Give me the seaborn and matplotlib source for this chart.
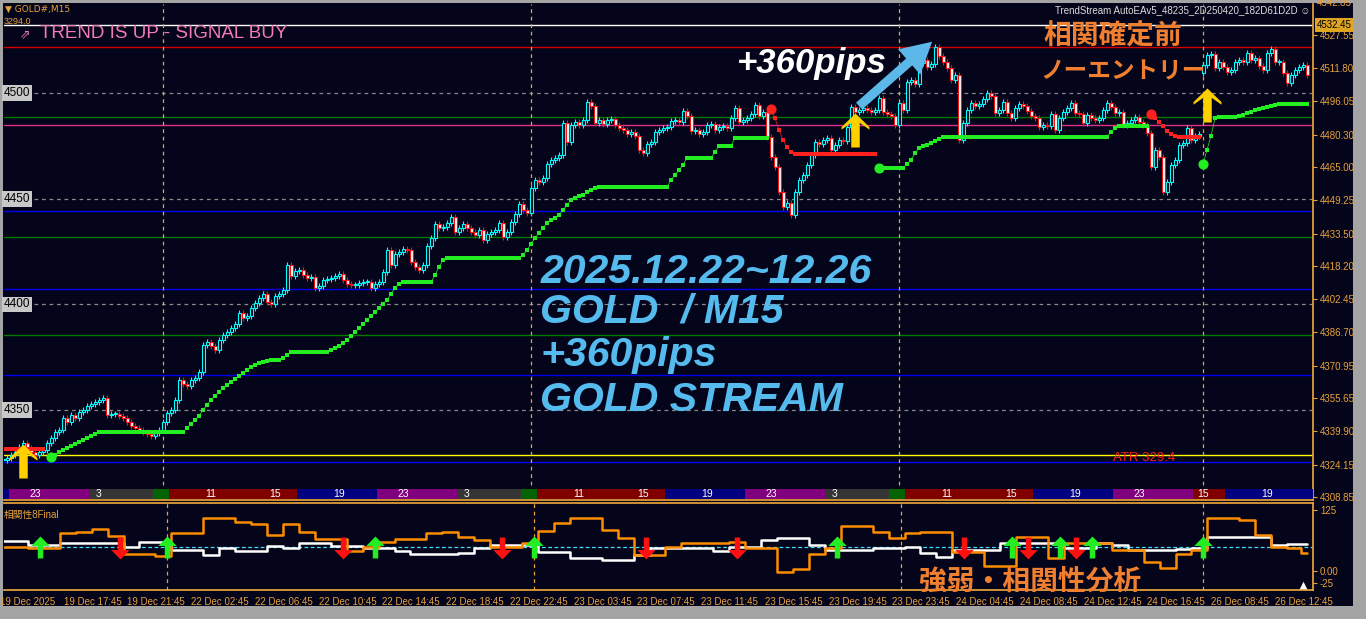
import matplotlib
matplotlib.use("Agg")
import matplotlib.pyplot as plt
import matplotlib.transforms as mtransforms
from matplotlib.patches import Rectangle
import numpy as np
import seaborn as sns

# ---------------- data ----------------
# M15 closes, one list per trading day
close_19dec = [4326.3, 4326.3, 4327.3, 4328.7, 4330.1, 4332.5, 4334.4, 4332.0, 4330.1, 4328.7, 4330.1, 4331.1, 4334.4, 4336.8, 4339.6, 4340.5,
               4346.2, 4344.3, 4347.6, 4346.2, 4349.1, 4350.0, 4351.9, 4352.8, 4353.8, 4354.7, 4355.7, 4347.6, 4348.1, 4348.1, 4347.2, 4346.2,
               4344.3, 4342.4, 4341.5, 4340.5, 4339.6, 4338.6, 4337.7, 4339.1, 4340.5]
close_22dec = [4344.3, 4348.6, 4350.0, 4354.7, 4364.2, 4362.3, 4361.4,
               4364.2, 4365.2, 4368.0, 4380.8, 4382.2, 4380.3, 4378.4, 4383.1, 4385.5, 4386.9, 4388.8, 4390.7, 4395.9, 4393.6, 4394.5, 4398.3,
               4400.7, 4403.0, 4404.9, 4401.1, 4400.2, 4404.0, 4404.9, 4406.8, 4418.6, 4413.4, 4415.8, 4416.3, 4413.9, 4412.5, 4413.0, 4407.8,
               4408.7, 4411.5, 4412.0, 4412.5, 4413.4, 4414.4, 4411.5, 4409.7, 4409.2, 4409.2, 4410.1, 4410.6, 4410.6, 4407.8, 4409.7, 4410.6,
               4415.3, 4425.7, 4418.6, 4423.9, 4424.8, 4426.2, 4425.7, 4420.1, 4417.7, 4416.3, 4418.6, 4427.6, 4431.4, 4438.1, 4436.2, 4436.6,
               4438.5, 4441.4, 4434.3, 4436.2, 4438.1, 4436.2, 4434.3, 4432.9, 4435.2, 4430.5, 4433.3, 4434.3, 4435.2, 4438.5, 4431.9, 4434.3,
               4439.0, 4442.8, 4447.5, 4444.7, 4443.3]
close_23dec = [4455.1, 4458.9, 4457.9, 4459.8, 4466.5, 4468.4, 4469.3, 4470.7, 4485.9, 4476.9, 4484.9,
               4486.3, 4484.9, 4487.3, 4495.8, 4493.9, 4485.9, 4487.3, 4485.4, 4487.3, 4487.8, 4484.9, 4483.5, 4482.6, 4480.7, 4481.6, 4479.7,
               4473.1, 4471.7, 4475.9, 4476.9, 4481.6, 4482.6, 4483.5, 4484.0, 4486.8, 4487.3, 4486.3, 4491.6, 4489.2, 4482.1, 4482.6, 4480.7,
               4481.6, 4484.9, 4485.4, 4482.6, 4484.0, 4484.5, 4483.5, 4488.2, 4493.0, 4486.3, 4487.3, 4488.2, 4490.1, 4494.4, 4489.2, 4491.1,
               4479.2, 4469.8, 4465.0, 4453.2, 4446.1, 4448.0, 4442.3, 4453.2, 4458.9, 4461.3, 4466.0, 4470.7, 4476.9, 4475.9, 4477.8, 4478.8,
               4473.1, 4475.5, 4477.8, 4477.4, 4484.0, 4493.4, 4491.1, 4492.0, 4493.0, 4492.0, 4491.1, 4492.0, 4497.7, 4491.1, 4490.1, 4489.2,
               4484.9]
close_24dec = [4495.3, 4492.0, 4505.3, 4506.2, 4504.3, 4514.3, 4515.7, 4512.4, 4513.8, 4521.9, 4517.6, 4514.7, 4511.9, 4506.2, 4508.6,
               4477.8, 4485.9, 4492.0, 4495.3, 4493.9, 4494.9, 4497.2, 4500.1, 4498.7, 4490.6, 4492.0, 4495.8, 4490.6, 4488.2, 4493.0, 4494.9,
               4493.9, 4491.6, 4489.2, 4488.2, 4484.0, 4484.9, 4484.5, 4490.1, 4482.6, 4488.2, 4491.1, 4493.0, 4495.3, 4490.6, 4490.1, 4485.9,
               4489.7, 4488.2, 4487.3, 4488.2, 4492.0, 4495.3, 4493.4, 4490.6, 4491.1, 4484.9, 4485.9, 4487.3, 4488.7, 4486.3, 4484.9, 4481.1,
               4465.0, 4473.1, 4469.8, 4453.2, 4457.9, 4466.0, 4468.4, 4475.5, 4476.4, 4483.5, 4477.8, 4479.7, 4480.7]
close_26dec = [4513.3, 4518.1, 4518.5,
               4511.9, 4514.7, 4512.4, 4510.0, 4511.0, 4514.7, 4515.7, 4514.7, 4519.0, 4515.7, 4516.6, 4512.9,
               4511.0, 4519.0, 4520.9, 4514.7, 4514.7, 4509.5, 4504.8, 4508.6, 4511.0, 4512.4, 4513.3, 4508.6]
open_26dec = 4509.5          # first bar after the Christmas gap

# trailing stop (start bar, values)
red_stop_1 = (0, [4331.6] * 12)
green_stop_1 = (13, [4327.8, 4328.7, 4330.1, 4331.1, 4332.0, 4333.0, 4333.9, 4334.9, 4335.8, 4336.8, 4337.7, 4338.6]
                + [4339.6] * 22
                + [4341.5, 4343.4, 4345.3, 4347.2, 4350.0, 4352.4, 4354.7, 4356.6, 4358.5, 4360.4, 4361.8, 4363.3, 4364.7, 4366.1,
                   4367.5, 4368.9, 4370.4, 4371.3, 4372.3, 4372.7, 4373.2, 4373.7, 4373.7, 4373.7, 4374.6, 4376.0, 4377.5]
                + [4377.5] * 9
                + [4378.4, 4379.4, 4380.3, 4381.7, 4383.1, 4385.0, 4386.9, 4388.8, 4390.7, 4392.6, 4394.5, 4396.4, 4398.3, 4400.2,
                   4402.1, 4404.9, 4407.8, 4409.7, 4410.6]
                + [4410.6] * 7 + [4413.9, 4417.7, 4421.0] + [4422.0] * 19
                + [4423.4, 4425.7, 4428.6, 4431.4, 4433.8, 4436.2, 4438.5, 4440.0, 4440.9, 4442.3, 4444.7, 4447.0, 4449.4, 4450.4,
                   4451.3, 4451.8, 4453.2, 4454.2, 4455.1]
                + [4455.6] * 18 + [4458.9, 4461.3, 4463.6, 4466.0, 4469.3] + [4469.3] * 6
                + [4472.1, 4475.0] + [4475.0] * 3 + [4479.0] * 9)
red_stop_2 = (193, [4492.5, 4488.2, 4482.6, 4477.8, 4474.5, 4472.1] + [4471.2] * 21)
green_stop_2 = (220, [4464.6] * 7 + [4466.5, 4468.4, 4471.7, 4474.0, 4475.0, 4475.5, 4476.4, 4477.4, 4478.3]
                + [4479.2] * 42 + [4481.6, 4483.5] + [4484.5] * 8)
red_stop_3 = (288, [4490.1, 4488.2, 4486.3, 4484.5, 4482.1, 4480.7, 4479.7] + [4479.2] * 6)
green_stop_3 = (301, [4466.5, 4473.1, 4479.7, 4488.2] + [4488.7] * 5
                + [4489.2, 4489.7, 4490.6, 4491.1, 4492.0, 4492.5, 4493.0, 4493.4, 4493.9, 4494.4] + [4494.9] * 8)

# horizontal levels
level_prices = [4532.45, 4521.8, 4488.7, 4484.9, 4444.2, 4431.9, 4407.3, 4385.5, 4366.6, 4328.7, 4325.4]
level_colors = ["#ffffff", "#d00000", "#007a00", "#e0308a", "#0000ee", "#007a00", "#0000ee", "#007a00", "#0000ee", "#ffff00", "#0000ff"]
round_levels = [4500, 4450, 4400, 4350]
price_ticks = [4527.55, 4511.80, 4496.05, 4480.30, 4465.00, 4449.25, 4433.50, 4418.20, 4402.45, 4386.70,
               4370.95, 4355.65, 4339.90, 4324.15, 4308.85]

time_labels = ["19 Dec 2025", "19 Dec 17:45", "19 Dec 21:45", "22 Dec 02:45", "22 Dec 06:45", "22 Dec 10:45",
               "22 Dec 14:45", "22 Dec 18:45", "22 Dec 22:45", "23 Dec 03:45", "23 Dec 07:45", "23 Dec 11:45",
               "23 Dec 15:45", "23 Dec 19:45", "23 Dec 23:45", "24 Dec 04:45", "24 Dec 08:45", "24 Dec 12:45",
               "24 Dec 16:45", "26 Dec 08:45", "26 Dec 12:45"]

# session bar
session_starts = [0, 3, 23, 39, 43, 75, 95, 115, 131, 135, 167, 187, 207, 223, 227, 259, 279, 299, 307, 329]
session_kinds = ["ny", "asia", "off", "pre", "eu", "ny", "asia", "off", "pre", "eu", "ny", "asia", "off", "pre", "eu",
                 "ny", "asia", "eu", "ny"]
session_label_bars = [9, 25, 53, 69, 85, 101, 117, 145, 161, 177, 193, 209, 237, 253, 269, 285, 301, 317]
session_labels = ["23", "3", "11", "15", "19", "23", "3", "11", "15", "19", "23", "3", "11", "15", "19", "23", "15", "19"]

# correlation oscillator, sampled every 4 bars (plus the last bar)
osc_orange = [50.1, 50.1, 48.1, 48.1, 78.7, 80.7, 85.6, 71.9, 35.2, 35.2, 31.1, 77.4, 77.4, 109.3, 109.3, 101.1,
              96.4, 74.0, 96.4, 79.5, 65.2, 65.2, 41.9, 50.1, 60.3, 65.2, 65.2, 78.7, 80.7, 70.5, 63.8, 50.1,
              50.1, 57.0, 82.8, 99.1, 109.3, 109.3, 84.2, 67.2, 33.2, 33.2, 50.1, 57.0, 57.0, 57.0, 60.3, 46.8,
              46.8, -0.9, 4.0, 35.2, 46.8, 93.0, 93.0, 80.7, 67.2, 78.7, 80.7, 80.7, 39.9, 39.9, 10.7, 10.7,
              70.5, 70.5, 26.4, 58.3, 58.3, 58.3, 43.4, 43.4, 19.5, 6.0, 35.2, 43.4, 108.1, 108.1, 104.6, 74.0,
              50.1, 46.8, 37.9]
osc_white = [61.7, 61.7, 53.6, 53.6, 57.0, 57.0, 57.0, 57.0, 49.5, 60.3, 60.3, 43.4, 43.4, 33.2, 46.8, 41.3,
             41.3, 52.1, 48.1, 58.3, 58.3, 52.1, 52.1, 46.8, 46.8, 41.3, 34.6, 34.6, 34.6, 36.6, 46.8, 53.6,
             53.6, 53.6, 39.9, 39.9, 26.4, 26.4, 23.0, 23.0, 33.2, 46.8, 46.8, 46.8, 46.8, 41.9, 48.9, 48.9,
             63.8, 68.5, 68.5, 53.6, 43.4, 43.4, 43.4, 46.8, 46.8, 50.1, 37.2, 29.7, 43.4, 43.4, 43.4, 57.0,
             57.0, 57.0, 57.0, 46.8, 46.8, 58.3, 53.6, 43.4, 43.4, 43.4, 45.4, 47.4, 69.3, 69.3, 69.3, 69.3,
             53.6, 55.0, 55.0]
osc_level = 50
buy_signal_bars = [9, 41, 93, 133, 209, 253, 265, 273, 301]
sell_signal_bars = [29, 85, 125, 161, 184, 241, 257, 269]

# entry arrows on the price panel (bar, mid price)
entry_bars = [6, 214, 302]
entry_prices = [4326.0, 4482.4, 4494.6]
move_from = (214.5, 4493.0)
move_to = (233.8, 4525.2)

# ---------------- style ----------------
W, H = 1366, 619
BG = "#04041a"
ORANGE = "#e8a23a"
CYAN = "#00ffff"
RED = "#ff1010"
SESSION_COLORS = {"ny": "#000080", "asia": "#800080", "off": "#353535", "pre": "#006400", "eu": "#800000"}

sns.set_theme(style="dark")
plt.rcParams["font.family"] = ["Liberation Sans", "Noto Sans CJK JP", "DejaVu Sans"]
plt.rcParams["axes.unicode_minus"] = False

fig = plt.figure(figsize=(W / 100, H / 100), dpi=100)
fig.patch.set_facecolor("#a4a4a4")
fig.add_artist(Rectangle((3 / W, 1 - 606 / H), 1350 / W, 603 / H, transform=fig.transFigure,
                         facecolor=BG, edgecolor="none", zorder=-10))


def px_axes(x0, y0, x1, y1):
    return fig.add_axes([x0 / W, 1 - y1 / H, (x1 - x0) / W, (y1 - y0) / H])


def fig_text(x, y, s, **kw):
    fig.text(x / W, 1 - y / H, s, **kw)


ax = px_axes(4, 4, 1313, 500)
ax2 = px_axes(4, 503, 1313, 590)
for a in (ax, ax2):
    a.set_facecolor(BG)
    a.grid(False)
    for side in ("left", "top", "right", "bottom"):
        a.spines[side].set_visible(False)
    a.set_xlim(1.25, 328.5)

# ---------------- candles ----------------
closes = np.array(close_19dec + close_22dec + close_23dec + close_24dec + close_26dec)
bars = np.arange(len(closes))
opens = np.r_[closes[0], closes[:-1]]
opens[len(closes) - len(close_26dec)] = open_26dec
up = closes >= opens
lo = np.minimum(opens, closes)
hi = np.maximum(opens, closes)
body = np.maximum(hi - lo, 0.3)
wick = 1.4

ax.vlines(bars, lo - wick, hi + wick, colors=np.where(up, CYAN, RED), lw=0.8, zorder=3)
ax.bar(bars[up], body[up], bottom=lo[up], width=0.75, facecolor=BG, edgecolor=CYAN, lw=0.8, zorder=4)
ax.bar(bars[~up], body[~up], bottom=lo[~up], width=0.75, facecolor="white", edgecolor=RED, lw=0.8, zorder=4)

# ---------------- levels / grid ----------------
for p, c in zip(level_prices, level_colors):
    ax.axhline(p, color=c, lw=1.0, zorder=1)
for p in round_levels:
    ax.axhline(p, color="#8a8a8a", lw=0.9, ls=(0, (3, 3)), zorder=1)
    ax.text(0.0, p, str(p), transform=mtransforms.blended_transform_factory(ax.transAxes, ax.transData),
            ha="left", va="center", fontsize=8.5, color="black",
            bbox=dict(boxstyle="square,pad=0.15", fc="#c8c8c8", ec="none"), zorder=8)

day_starts = np.cumsum([len(close_19dec), len(close_22dec), len(close_23dec), len(close_24dec)])
for a in (ax, ax2):
    for d in day_starts:
        a.axvline(d, color=ORANGE, lw=0.9, ls=(0, (3, 3)), zorder=2)

# ---------------- trailing stops ----------------
for (start, vals), color in [(red_stop_1, "#ff2020"), (green_stop_1, "#22ee22"), (red_stop_2, "#ff2020"),
                             (green_stop_2, "#22ee22"), (red_stop_3, "#ff2020"), (green_stop_3, "#22ee22")]:
    xs = start + np.arange(len(vals))
    ax.plot(xs, vals, color=color, lw=0.5, zorder=5)
    sns.scatterplot(x=xs, y=vals, ax=ax, marker="s", s=4.8, color=color, linewidth=0, zorder=5)
    if start > 0:
        ax.scatter([xs[0]], [vals[0]], s=40, color=color, zorder=6)

# ---------------- session bar ----------------
bt = mtransforms.blended_transform_factory(ax.transData, ax.transAxes)
for s0, s1, kind in zip(session_starts[:-1], session_starts[1:], session_kinds):
    ax.add_patch(Rectangle((s0 - 0.5, 0.002), s1 - s0, 0.021, transform=bt,
                           facecolor=SESSION_COLORS[kind], edgecolor="none", zorder=7))
for b, lab in zip(session_label_bars, session_labels):
    ax.text(b, 0.012, lab, transform=bt, ha="center", va="center", fontsize=7.5, color="white", zorder=8)

# ---------------- arrows ----------------
big_arrow = [(0, 1), (0.82, 0.2), (0.82, 0.05), (0.25, 0.45), (0.25, -1), (-0.25, -1),
             (-0.25, 0.45), (-0.82, 0.05), (-0.82, 0.2), (0, 1)]
ax.scatter(entry_bars, entry_prices, marker=big_arrow, s=600, color="#ffd000", linewidth=0, zorder=9)
ax.annotate("", xy=move_to, xytext=move_from,
            arrowprops=dict(arrowstyle="simple,head_length=1.0,head_width=1.1,tail_width=0.3",
                            mutation_scale=22, color="#5db8ea", lw=0), zorder=9)

up_arrow = [(0, 1), (0.84, 0.14), (0.25, 0.14), (0.25, -1), (-0.25, -1), (-0.25, 0.14), (-0.84, 0.14), (0, 1)]
down_arrow = [(x, -y) for x, y in up_arrow]

# ---------------- price axis ----------------
ax.set_ylim(4307.4, 4542.2)
ax.yaxis.tick_right()
ax.set_yticks(price_ticks)
ax.set_yticklabels([f"{p:.2f}" for p in price_ticks])
ax.tick_params(axis="y", colors=ORANGE, labelsize=7, length=3, width=0.8, pad=2, direction="out")
ax.set_xticks([])
ax.spines["right"].set_visible(True)
ax.spines["bottom"].set_visible(True)
ax.spines["right"].set_color(ORANGE)
ax.spines["bottom"].set_color(ORANGE)
ytr = mtransforms.blended_transform_factory(ax.transAxes, ax.transData)
ax.text(1.003, 4532.45, "4532.45", transform=ytr, ha="left", va="center", fontsize=7, color="black",
        bbox=dict(boxstyle="square,pad=0.2", fc="#dfa520", ec="none"), zorder=10)
ax.text(1.003, 4542.85, "4542.85", transform=ytr, ha="left", va="center", fontsize=7, color=ORANGE)

# ---------------- texts on price panel ----------------
ax.text(0.0275, 0.931, "TREND IS UP - SIGNAL BUY", transform=ax.transAxes, fontsize=13.5, color="#f27ab8")
ax.text(0.012, 0.931, "⇗", transform=ax.transAxes, fontsize=9, color="#f27ab8", family=["DejaVu Sans"])
ax.text(184.5, 4509.3, "+360pips", fontsize=25, fontweight="bold", fontstyle="italic", color="white", zorder=9)
for line, base in zip(["2025.12.22~12.26", "GOLD  / M15", "+360pips", "GOLD STREAM"],
                      [4410.3, 4391.6, 4370.8, 4349.7]):
    ax.text(135.3, base, line, fontsize=29.5, fontweight="bold", fontstyle="italic", color="#55bbee", zorder=9)
ax.text(261, 4523.0, "相関確定前", fontsize=20, fontweight="bold", color="#f07f2f",
        family=["Noto Sans CJK JP"], zorder=9)
ax.text(260.3, 4507.0, "ノーエントリー", fontsize=17, fontweight="bold", color="#f07f2f",
        family=["Noto Sans CJK JP"], zorder=9)
ax.text(278.5, 4327.3, "ATR 329.4", fontsize=9.5, color="#ff1a1a", va="center", zorder=9)

fig_text(5, 9, "▼ GOLD#,M15", fontsize=6.5, color=ORANGE, va="center", family=["DejaVu Sans"])
fig_text(4, 21, "3294.0", fontsize=6.5, color=ORANGE, va="center")
fig_text(1310, 10, "TrendStream AutoEAv5_48235_2D250420_182D61D2D ☺", fontsize=7, color="#dcdcdc",
         ha="right", va="center", family=["Liberation Sans", "DejaVu Sans"])

# ---------------- oscillator panel ----------------
osc_bars = np.r_[np.arange(0, len(closes), 4), len(closes) - 1]
sns.lineplot(x=osc_bars, y=osc_orange, ax=ax2, color="#ff8c00", lw=1.8, drawstyle="steps-mid", zorder=4)
sns.lineplot(x=osc_bars, y=osc_white, ax=ax2, color="white", lw=1.8, drawstyle="steps-mid", zorder=3)
ax2.axhline(osc_level, color="#40e0ff", lw=0.9, ls=(0, (3, 2)), zorder=2)
ax2.scatter(buy_signal_bars, [osc_level] * len(buy_signal_bars), marker=up_arrow, s=250,
            color="#22ee22", linewidth=0, zorder=6)
ax2.scatter(sell_signal_bars, [osc_level - 2] * len(sell_signal_bars), marker=down_arrow, s=250,
            color="#ff1010", linewidth=0, zorder=6)
ax2.scatter([326], [-28], marker="^", s=30, color="white", linewidth=0, zorder=6)
ax2.set_ylim(-38.3, 139.3)
ax2.yaxis.tick_right()
ax2.set_yticks([125, 0, -25])
ax2.set_yticklabels(["125", "0.00", "-25"])
ax2.tick_params(axis="y", colors=ORANGE, labelsize=7, length=3, width=0.8, pad=2)
ax2.set_xticks(np.arange(0, len(closes), 16))
ax2.set_xticklabels(time_labels)
ax2.tick_params(axis="x", colors=ORANGE, labelsize=7, length=3, width=0.8, pad=2, direction="out")
shift = mtransforms.ScaledTranslation(-3 / 72, 0, fig.dpi_scale_trans)
for lab in ax2.get_xticklabels():
    lab.set_horizontalalignment("left")
    lab.set_transform(lab.get_transform() + shift)
for side in ("top", "bottom", "right"):
    ax2.spines[side].set_visible(True)
    ax2.spines[side].set_color(ORANGE)
ax2.set_xlabel("")
ax2.set_ylabel("")
ax2.text(0.0, 0.86, "相関性8Final", transform=ax2.transAxes, fontsize=7, color=ORANGE, va="center")
ax2.text(229.5, -37.0, "強弱・相関性分析", fontsize=20, fontweight="bold", color="#f07f2f",
         family=["Noto Sans CJK JP"], zorder=9)

fig.savefig("out.png", dpi=100, facecolor=fig.get_facecolor())
